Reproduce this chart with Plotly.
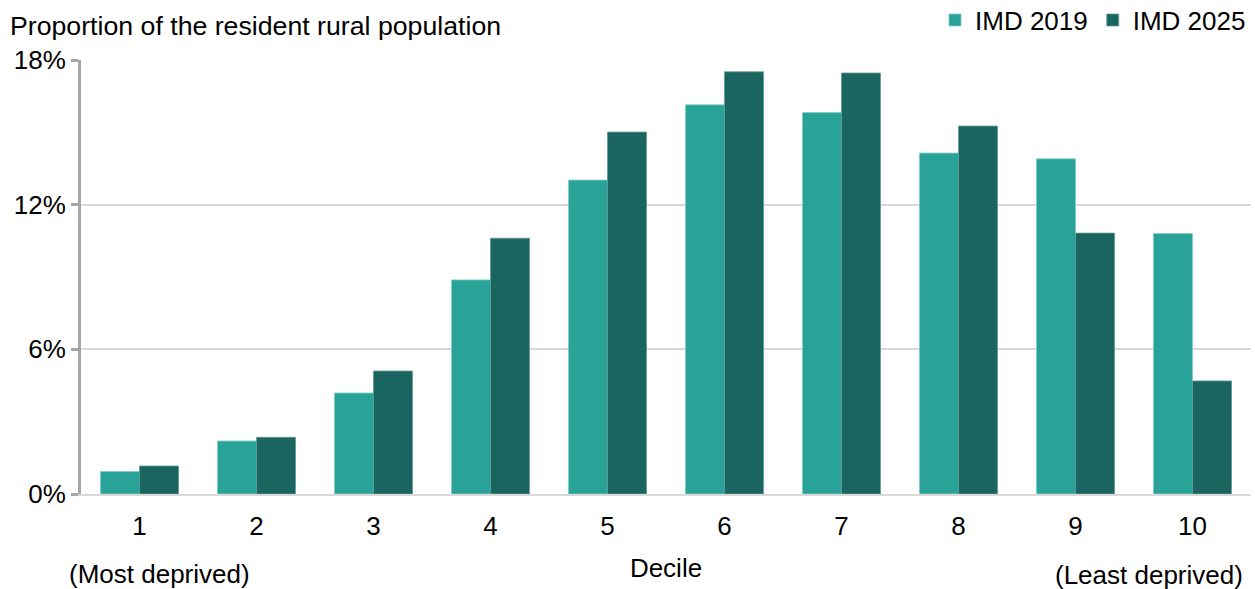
import plotly.graph_objects as go

deciles = ["1", "2", "3", "4", "5", "6", "7", "8", "9", "10"]
imd_2019 = [0.93, 2.2, 4.19, 8.88, 13.02, 16.14, 15.82, 14.14, 13.9, 10.8]
imd_2025 = [1.16, 2.35, 5.1, 10.61, 15.01, 17.51, 17.46, 15.26, 10.82, 4.69]
y_ticks = [0, 6, 12, 18]
y_tick_labels = ["0%", "6%", "12%", "18%"]

FONT = "Liberation Sans, Arial, sans-serif"
FS = 26
C2019 = "#29A398"
C2025 = "#1B6560"

fig = go.Figure()
fig.add_trace(go.Bar(x=deciles, y=imd_2019, name="IMD 2019",
                     marker=dict(color=C2019, line=dict(color="#7fcdc5", width=0.8))))
fig.add_trace(go.Bar(x=deciles, y=imd_2025, name="IMD 2025",
                     marker=dict(color=C2025, line=dict(color="#5f9a96", width=0.8))))

fig.update_layout(
    width=1255, height=589,
    margin=dict(l=81, r=4, t=60, b=95, autoexpand=False),
    paper_bgcolor="white", plot_bgcolor="white",
    font=dict(family=FONT, size=FS, color="#000000"),
    barmode="group", bargap=0.333, bargroupgap=0,
    showlegend=True,
    legend=dict(orientation="h", x=1.0, xanchor="right", y=1.092, yanchor="middle",
                font=dict(family=FONT, size=FS, color="#000000"),
                bgcolor="rgba(0,0,0,0)", traceorder="normal", itemwidth=30),
    annotations=[
        dict(text="Proportion of the resident rural population", xref="paper", yref="paper",
             x=-0.0624, y=1.078, xanchor="left", yanchor="middle", showarrow=False,
             font=dict(family=FONT, size=26.7, color="#000000")),
        dict(text="(Most deprived)", xref="paper", yref="paper",
             x=0.0675, y=-0.184, xanchor="center", yanchor="middle", showarrow=False,
             font=dict(family=FONT, size=FS, color="#000000")),
        dict(text="(Least deprived)", xref="paper", yref="paper",
             x=0.995, y=-0.186, xanchor="right", yanchor="middle", showarrow=False,
             font=dict(family=FONT, size=FS, color="#000000")),
    ],
)

fig.update_xaxes(
    type="category",
    showline=True, linecolor="#d9d9d9", linewidth=2,
    ticks="outside", ticklen=8, tickcolor="rgba(0,0,0,0)",
    showgrid=False,
    tickfont=dict(family=FONT, size=FS, color="#000000"),
    title=dict(text="Decile", standoff=19, font=dict(family=FONT, size=FS, color="#000000")),
)
fig.update_yaxes(
    range=[0, 18], tickvals=y_ticks, ticktext=y_tick_labels,
    showline=True, linecolor="#a6a6a6", linewidth=3,
    ticks="outside", ticklen=7, tickcolor="#a6a6a6", tickwidth=3,
    showgrid=True, gridcolor="#d9d9d9", gridwidth=2,
    zeroline=False,
    tickfont=dict(family=FONT, size=FS, color="#000000"),
)

fig.write_html("out.html", config={"displayModeBar": False},
               post_script="document.body.style.margin='0px';document.body.style.overflow='hidden';")
